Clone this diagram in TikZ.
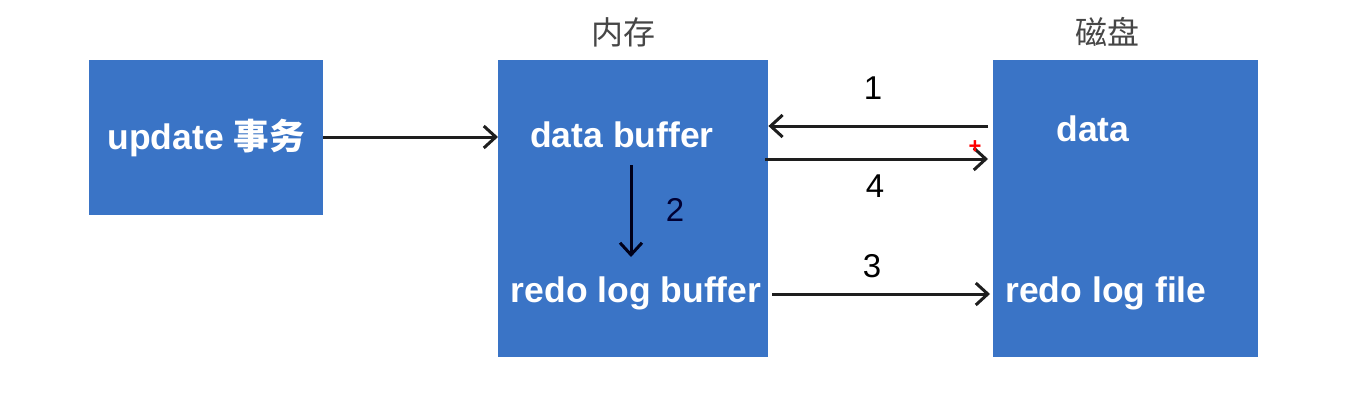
\documentclass[tikz,border=0pt]{standalone}
\usepackage{fontspec}
\setmainfont{Liberation Sans}
\newfontfamily\cjk{Noto Sans CJK SC}
\usetikzlibrary{arrows.meta}
\definecolor{boxblue}{RGB}{58,116,198}
\definecolor{linegray}{RGB}{30,30,30}
\definecolor{headgray}{RGB}{70,70,70}
\tikzset{
  blk/.style={fill=boxblue, draw=none, inner sep=0pt},
  btxt/.style={text=white, font=\fontsize{35.5}{40}\selectfont\bfseries, inner sep=0pt},
  num/.style={text=black, font=\fontsize{33}{40}\selectfont, inner sep=0pt},
  head/.style={text=headgray, font=\cjk\fontsize{32}{38}\selectfont, inner sep=0pt},
  arr/.style={draw=linegray, line width=3pt, -{Straight Barb[length=12pt,width=22pt,line width=3pt]}},
}
\begin{document}
\begin{tikzpicture}[x=1pt,y=-1pt]
\useasboundingbox (0,0) rectangle (1352,420);
% boxes
\node[blk, minimum width=234pt, minimum height=155pt, anchor=north west] (upd) at (89,60) {};
\node[blk, minimum width=270pt, minimum height=297pt, anchor=north west] (mem) at (498,60) {};
\node[blk, minimum width=265pt, minimum height=297pt, anchor=north west] (disk) at (993,60) {};
% headings
\node[head] (hmem) at (623,32) {内存};
\node[head] (hdisk) at (1107,32) {磁盘};
% box texts
\node[btxt] (tupd) at (206,138) {update {\cjk 事务}};
\node[btxt] (tdb) at (622,135) {data buffer};
\node[btxt] (trlb) at (636,293) {redo log buffer};
\node[btxt] (tdata) at (1093,129) {data};
\node[btxt] (trlf) at (1106,293) {redo log file};
% connection points
\coordinate (c0s) at (upd.east |- 0,137);
\coordinate (c0e) at (mem.west |- 0,137);
\coordinate (c1s) at ([xshift=-5pt]disk.west |- 0,126);
\coordinate (c1e) at (mem.east |- 0,126);
\coordinate (c4s) at ([xshift=-3pt]mem.east |- 0,159);
\coordinate (c4e) at ([xshift=-5pt]disk.west |- 0,159);
\coordinate (c2s) at (631,165);
\coordinate (c2e) at (631,257);
\coordinate (c3s) at ([xshift=4pt]mem.east |- 0,294);
\coordinate (c3e) at ([xshift=-3pt]disk.west |- 0,294);
% arrows
\draw[arr] (c0s) -- (c0e);
\draw[arr] (c1s) -- (c1e);
\draw[arr] (c4s) -- (c4e);
\draw[arr, draw=black!90!blue] (c2s) -- (c2e);
\draw[arr] (c3s) -- (c3e);
% labels
\node[num] (n1) at (873,88) {1};
\node[num] (n4) at (875,186) {4};
\node[num, text=black!80!blue] (n2) at (675,210) {2};
\node[num] (n3) at (872,266) {3};
\node[text=red, font=\fontsize{22}{24}\selectfont\bfseries, inner sep=0pt] (plus) at (975,147) {+};
\end{tikzpicture}
\end{document}
